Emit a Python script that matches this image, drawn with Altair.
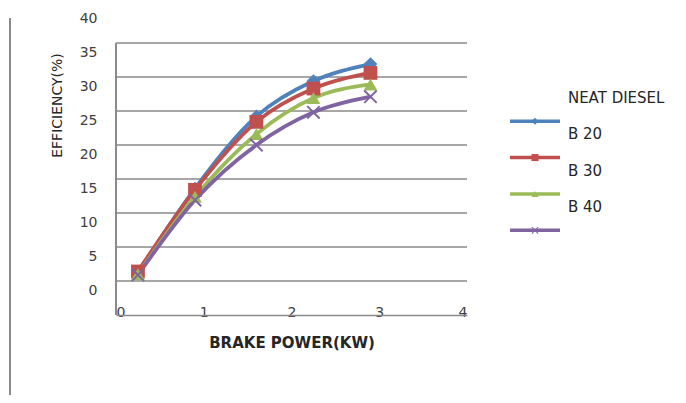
import altair as alt
import pandas as pd

# ---- data ----
series = ["NEAT DIESEL", "B 20", "B 30", "B 40"]
brake_power = [0.25, 0.9, 1.6, 2.25, 2.9]
neat_diesel = [1.2, 13.6, 24.2, 29.4, 31.9]
b20 = [1.4, 13.4, 23.4, 28.3, 30.6]
b30 = [1.0, 12.4, 21.6, 26.9, 28.9]
b40 = [0.9, 11.9, 20.0, 24.8, 27.1]
x_ticks = [0, 1, 2, 3, 4]
y_ticks = [0, 5, 10, 15, 20, 25, 30, 35, 40]

colors = ["#4F81BD", "#C0504D", "#9BBB59", "#8064A2"]
x_path = ("M-1,-0.8L-0.8,-1L0,-0.2L0.8,-1L1,-0.8L0.2,0L1,0.8L0.8,1"
          "L0,0.2L-0.8,1L-1,0.8L-0.2,0Z")
shapes = ["diamond", "square", "triangle-up", x_path]

FONT = "DejaVu Sans"
W, H = 351, 306

rows = []
for name, vals in zip(series, [neat_diesel, b20, b30, b40]):
    for xv, yv in zip(brake_power, vals):
        rows.append({"series": name, "bp": xv, "eff": yv})
df = pd.DataFrame(rows)

xs = alt.Scale(domain=[0, 4], nice=False, zero=False)
ys = alt.Scale(domain=[-5, 40], nice=False, zero=False)
cscale = alt.Scale(domain=series, range=colors)
sscale = alt.Scale(domain=series, range=shapes)

x_axis = alt.Axis(values=x_ticks, grid=False, ticks=False, domainColor="#8a8a8a",
                  domainWidth=1.3, labelFont=FONT, labelFontSize=14, labelColor="#404040",
                  labelPadding=-3, labelBaseline="middle",
                  title="BRAKE POWER(KW)", titleFont=FONT, titleFontSize=15,
                  titleFontWeight="bold", titleColor="#262626", titleY=27,
                  titleBaseline="middle")
y_axis = alt.Axis(values=y_ticks, grid=False, ticks=False, domain=False,
                  labelFont=FONT, labelFontSize=14, labelColor="#404040",
                  labelOffset=9, labelPadding=19, labelBaseline="middle",
                  title="EFFICIENCY(%)", titleFont=FONT, titleFontSize=14,
                  titleFontWeight="normal", titleColor="#262626", titleAngle=270,
                  titleX=-59, titleY=96, titleAlign="center",
                  titleBaseline="middle")

grid_df = pd.DataFrame({"g": [v for v in y_ticks if v <= 35]})

grid = alt.Chart(grid_df).mark_rule(color="#8a8a8a", strokeWidth=1.3).encode(
    x=alt.X(datum=0, scale=xs, axis=x_axis),
    x2=alt.X2(datum=4),
    y=alt.Y("g:Q", scale=ys, axis=y_axis),
)

yaxis_line = alt.Chart(grid_df).mark_rule(color="#8a8a8a", strokeWidth=1.3).encode(
    x=alt.X(datum=0, scale=xs, axis=x_axis),
    y=alt.Y(datum=-5, scale=ys, axis=y_axis),
    y2=alt.Y2(datum=35),
)

lines = alt.Chart(df).mark_line(interpolate="monotone", strokeWidth=3.8).encode(
    x=alt.X("bp:Q", scale=xs, axis=x_axis),
    y=alt.Y("eff:Q", scale=ys, axis=y_axis),
    color=alt.Color("series:N", scale=cscale, legend=None),
    detail="series:N",
)

points = alt.Chart(df).mark_point(filled=True, size=190, opacity=1).encode(
    x=alt.X("bp:Q", scale=xs, axis=x_axis),
    y=alt.Y("eff:Q", scale=ys, axis=y_axis),
    color=alt.Color("series:N", scale=cscale, legend=None),
    shape=alt.Shape("series:N", scale=sscale, legend=None),
)

# ---- legend drawn through the same scales (outside the plot area) ----
leg_sym_y = [23.5 - 5.35 * i for i in range(len(series))]
leg_df = pd.DataFrame({
    "series": series,
    "sy": leg_sym_y,
    "ly": [v + 3.4 for v in leg_sym_y],
    "x0": [4.49] * len(series),
    "x1": [5.06] * len(series),
    "xm": [4.775] * len(series),
    "xl": [5.15] * len(series),
})

leg_lines = alt.Chart(leg_df).mark_rule(strokeWidth=3.5).encode(
    x=alt.X("x0:Q", scale=xs, axis=x_axis),
    x2="x1:Q",
    y=alt.Y("sy:Q", scale=ys, axis=y_axis),
    color=alt.Color("series:N", scale=cscale, legend=None),
)
leg_points = alt.Chart(leg_df).mark_point(filled=True, size=50, opacity=1).encode(
    x=alt.X("xm:Q", scale=xs, axis=x_axis),
    y=alt.Y("sy:Q", scale=ys, axis=y_axis),
    color=alt.Color("series:N", scale=cscale, legend=None),
    shape=alt.Shape("series:N", scale=sscale, legend=None),
)
leg_text = alt.Chart(leg_df).mark_text(align="left", baseline="middle", font=FONT,
                                       fontSize=15, color="#262626").encode(
    x=alt.X("xl:Q", scale=xs, axis=x_axis),
    y=alt.Y("ly:Q", scale=ys, axis=y_axis),
    text="series:N",
)

frame_line = alt.Chart(grid_df).mark_rule(color="#8a8a8a", strokeWidth=1.3).encode(
    x=alt.value(-106), y=alt.value(9), y2=alt.value(H + 90)
)

chart = alt.layer(
    grid, yaxis_line, lines, points, leg_lines, leg_points, leg_text, frame_line
).properties(
    width=W, height=H,
    background="white",
    autosize=alt.AutoSizeParams(type="none"),
    padding={"left": 108, "top": 1, "right": 211, "bottom": 80},
).configure_view(strokeWidth=0, stroke="transparent")

chart.save("out.html", embed_options={"renderer": "svg", "actions": False})
